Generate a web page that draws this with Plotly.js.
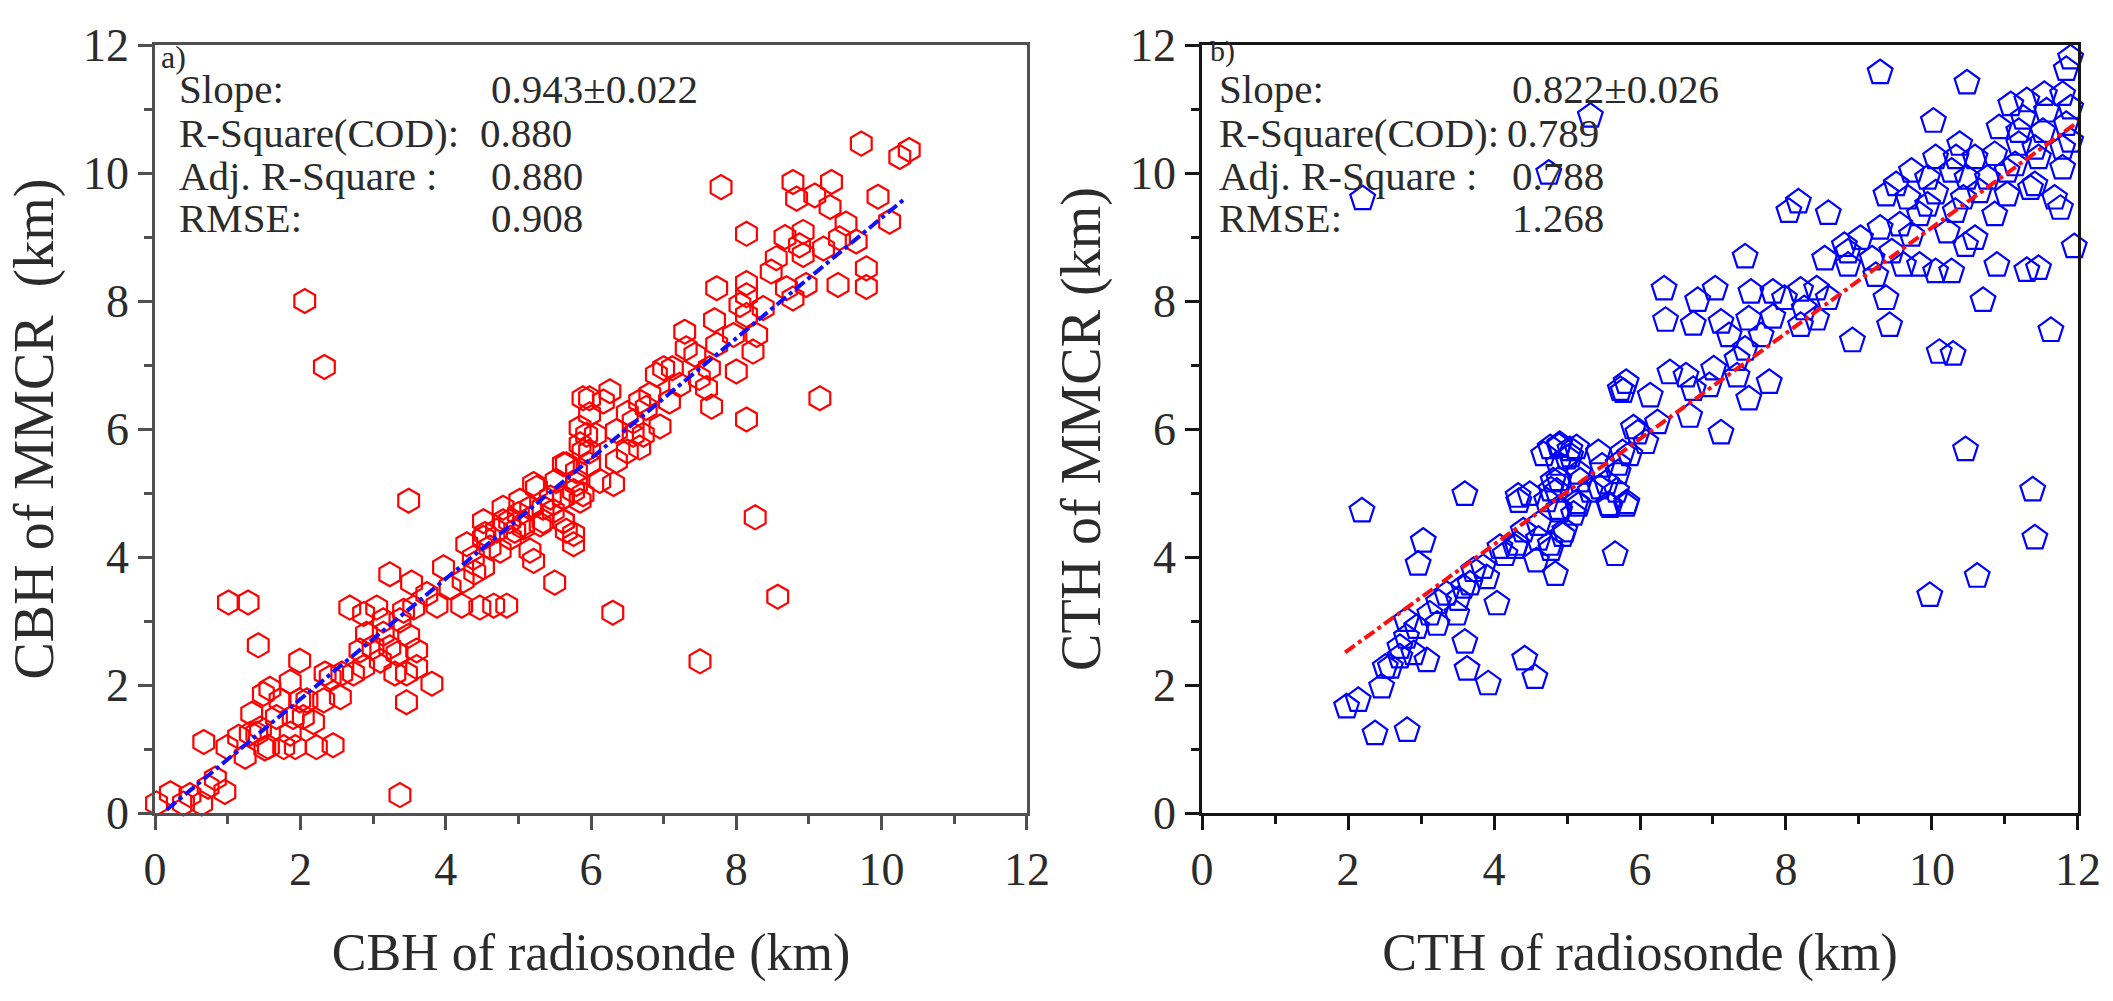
<!DOCTYPE html>
<html>
<head>
<meta charset="utf-8">
<script src="https://cdn.plot.ly/plotly-3.0.1.min.js"></script>
<style>
    body { margin: 0; background: #fff; }
    #chart { width: 2113px; height: 1001px; }
</style>
</head>
<body>
<div id="chart"></div>
<script>
// panel a) cloud base height, radiosonde vs MMCR (km)
var cbhSonde = [
    0.21, 0.02, 0.48, 0.73, 0.96, 0.64, 3.37, 0.67, 0.99, 1.24, 1.31, 1.51, 1.77, 1.93, 2.22, 2.45,
    1.33, 1.45, 1.56, 1.67, 1.90, 2.18, 1.49, 1.58, 1.86, 1.99, 2.09, 2.32, 2.34, 2.55, 2.57, 2.73,
    2.87, 2.68, 2.87, 3.05, 3.23, 3.53, 3.10, 3.23, 3.30, 3.46, 3.49, 3.46, 3.81, 3.60, 3.14, 3.37,
    1.01, 1.28, 1.42, 3.49, 3.56, 3.88, 4.22, 4.47, 4.66, 4.84, 3.97, 4.29, 4.40, 4.52, 4.79, 4.75,
    4.95, 5.21, 5.16, 5.21, 5.50, 5.62, 5.62, 5.76, 5.62, 5.89, 5.89, 5.94, 5.34, 5.00, 4.70, 4.54,
    0.39, 0.83, 1.15, 1.40, 1.86, 2.04, 1.72, 1.99, 2.41, 2.82, 3.00, 2.91, 3.14, 3.33, 3.60, 3.42,
    3.74, 4.06, 4.24, 4.52, 4.38, 4.61, 4.89, 5.07, 5.34, 5.44, 5.76, 5.80, 5.89, 4.79, 4.52,
    9.72, 10.25, 10.38, 7.79, 8.78, 9.31, 8.83, 9.08, 9.29, 9.95, 10.11, 8.14, 8.67, 9.51, 9.42, 8.92,
    9.20, 9.40, 9.79, 9.79, 8.48, 8.14, 8.69, 8.78, 7.29, 7.70, 8.14, 8.28, 7.43, 7.63, 8.00, 8.23,
    7.00, 7.22, 6.81, 7.59, 7.66, 9.15, 8.14, 8.26, 5.98, 6.26, 6.50, 6.67, 6.35, 6.06, 6.58, 6.95,
    6.67, 6.35, 5.98, 5.66, 6.12, 6.31, 5.25, 5.62, 5.85, 5.17, 4.88, 5.30, 5.62, 5.76,
    8.14, 8.37, 8.05, 7.73, 7.96, 7.73, 7.31, 7.12, 7.49, 6.90, 6.76, 7.08, 6.58, 6.17, 5.98, 5.85,
    6.72, 6.50, 5.98, 5.85, 5.52, 5.80, 5.02, 5.48, 5.07, 5.66, 8.92, 8.87, 8.55, 9.65, 8.96,
    2.06, 2.33, 6.30, 7.50, 8.57
];
var cbhMmcr = [
    0.31, 0.15, 0.28, 0.41, 0.33, 0.15, 0.28, 1.11, 1.03, 0.88, 1.24, 1.01, 1.03, 1.03, 1.03, 1.06,
    1.55, 1.32, 1.03, 1.50, 1.50, 1.42, 1.86, 1.94, 2.05, 2.38, 1.76, 1.76, 2.18, 1.81, 2.18, 2.18,
    2.28, 3.21, 3.11, 3.21, 3.73, 3.60, 2.38, 2.59, 2.18, 2.18, 2.77, 1.73, 2.02, 2.28, 2.80, 3.01,
    3.29, 3.29, 2.62, 4.88, 3.21, 3.24, 3.24, 3.21, 3.24, 3.24, 3.84, 4.20, 3.76, 4.56, 4.77, 4.10,
    4.41, 5.14, 4.10, 3.94, 3.60, 5.45, 4.93, 4.20, 4.56, 6.48, 4.98, 5.91, 4.56, 4.67, 4.41, 4.36,
    0.15, 0.54, 1.19, 1.24, 1.24, 1.50, 1.76, 1.76, 2.12, 2.54, 2.59, 2.80, 3.01, 2.49, 2.54, 3.16,
    3.42, 3.53, 3.63, 3.84, 3.99, 4.15, 4.30, 4.51, 4.77, 4.93, 5.03, 5.34, 5.65, 4.56, 4.30,
    10.46, 10.25, 10.36, 9.78, 9.86, 9.86, 9.60, 9.65, 9.47, 9.63, 9.24, 9.05, 9.00, 9.21, 8.98, 8.72,
    8.82, 8.25, 8.51, 8.22, 8.46, 8.28, 8.20, 8.04, 7.52, 7.70, 7.78, 7.47, 7.16, 6.95, 6.90, 7.21,
    6.95, 6.69, 6.54, 6.64, 6.35, 6.48, 6.15, 4.62, 6.48, 6.59, 6.25, 6.43, 5.97, 5.91, 5.91, 6.04,
    5.71, 5.50, 5.65, 5.45, 5.19, 5.14, 5.08, 4.93, 4.88, 4.77, 4.56, 4.51, 4.56, 4.36,
    8.09, 7.89, 7.94, 8.20, 7.47, 7.32, 7.26, 6.95, 6.80, 6.85, 6.33, 6.43, 6.12, 6.43, 6.23, 6.02,
    5.91, 5.65, 5.45, 5.76, 5.19, 5.14, 4.88, 4.72, 4.46, 4.41, 9.08, 8.87, 8.67, 8.93, 8.25,
    8.00, 6.97, 3.13, 2.37, 3.38
];

// panel b) cloud top height, radiosonde vs MMCR (km)
var cthSonde = [
    2.19, 3.60, 3.03, 2.96, 4.04, 3.60, 3.63, 3.92, 4.42, 4.56, 1.98, 2.14, 2.37, 2.81, 2.46, 2.51,
    2.71, 3.08, 2.80, 2.94, 3.22, 3.24, 3.51, 3.58, 3.49, 3.85, 3.90, 4.15, 4.31, 4.58, 4.84, 4.77,
    4.97, 4.90, 4.61, 4.33, 4.49, 4.86, 4.88, 4.77, 5.04, 4.90, 5.13, 5.57, 5.82, 5.66, 5.77, 5.70,
    5.91, 5.45, 5.18,
    4.68, 5.00, 5.13, 4.81, 4.72, 4.40, 4.08, 3.72, 3.67, 3.35, 3.12, 2.80, 2.71, 2.90, 2.58, 5.09,
    5.32, 5.68, 5.86,
    9.29, 10.48, 5.32, 4.75, 10.02, 11.84, 11.90, 11.08, 11.30, 11.54, 11.79, 10.92, 11.19, 11.52, 11.84, 10.38,
    10.59, 10.86, 11.19, 11.41, 11.79, 10.05, 9.94, 10.27, 10.48, 10.76, 11.03, 11.41, 11.79, 11.90, 9.37, 9.67,
    10.05, 10.43, 11.03, 11.35, 11.68, 11.76, 8.04, 8.17, 8.58, 10.86, 9.29, 9.56, 9.83, 10.21, 10.46, 10.59,
    11.95, 8.80, 9.02, 8.85, 9.18, 9.45, 9.61, 10.05, 10.27, 10.89, 11.30, 11.46, 10.70, 9.37, 9.42, 8.91,
    10.10, 10.29, 11.63, 10.46, 11.38, 7.44, 6.33, 7.03, 6.79, 6.35, 6.73, 7.52, 7.22, 7.49, 7.66, 7.82,
    8.20, 8.42, 8.58, 8.25, 8.42, 8.20, 7.44, 7.33, 7.49, 7.77, 6.63, 7.01, 6.73, 5.81, 5.73, 6.68,
    7.11, 6.24, 5.97, 6.08, 5.76, 4.89, 5.05, 4.78, 5.48, 5.54,
    11.57, 11.90, 11.25, 11.46, 11.14, 10.33, 9.72, 10.65, 10.32, 9.94, 9.51, 9.72, 9.23, 9.83, 8.85, 8.53,
    7.98, 7.82, 7.11, 7.33, 6.95, 6.41, 6.14, 5.43, 5.16, 4.89,
    11.41, 10.62, 9.97, 4.34, 4.89, 5.16, 5.59, 5.81, 5.70, 4.61, 4.78, 4.94, 4.29,
    2.20
];
var cthMmcr = [
    4.72, 4.98, 4.25, 3.89, 3.27, 2.67, 2.25, 2.02, 2.41, 2.12, 1.66, 1.76, 1.24, 1.29, 1.97, 2.28,
    2.44, 2.38, 2.75, 2.90, 2.95, 3.29, 3.34, 3.53, 3.11, 3.84, 3.68, 4.04, 4.20, 3.94, 3.73, 4.20,
    4.41, 4.72, 4.51, 4.95, 4.98, 5.03, 5.45, 5.71, 5.68, 5.76, 4.85, 4.82, 4.85, 4.04, 6.59, 5.45,
    6.02, 5.08, 5.19,
    5.60, 5.55, 5.71, 5.19, 4.88, 4.41, 4.15, 3.79, 3.58, 3.42, 3.11, 3.01, 2.59, 2.49, 2.28, 4.67,
    5.03, 5.03, 5.60,
    11.57, 11.41, 10.89, 10.00, 10.81, 11.62, 11.80, 11.07, 11.13, 11.23, 11.23, 10.71, 10.65, 10.65, 10.76, 10.45,
    10.24, 10.29, 10.45, 10.39, 10.39, 10.24, 9.92, 10.03, 9.92, 9.92, 10.03, 9.82, 10.08, 10.50, 9.66, 9.61,
    9.69, 9.61, 9.66, 9.76, 9.61, 9.45, 9.40, 9.55, 9.37, 9.35, 9.14, 9.19, 9.35, 9.08, 8.87, 8.98,
    8.85, 8.87, 8.98, 8.56, 8.66, 8.77, 8.56, 8.46, 8.46, 8.56, 8.48, 8.51, 8.01, 8.04, 7.62, 7.38,
    7.20, 7.17, 7.54, 5.68, 5.05, 8.69, 8.19, 8.19, 8.01, 7.70, 7.64, 8.14, 7.46, 7.72, 7.46, 7.75,
    8.17, 8.19, 8.04, 7.88, 7.72, 7.62, 7.25, 6.83, 6.47, 6.73, 6.83, 6.94, 6.62, 6.73, 6.62, 6.20,
    5.94, 6.10, 5.94, 5.79, 5.63, 5.73, 5.58, 5.05, 5.42, 5.16,
    10.97, 11.02, 10.86, 10.24, 10.13, 10.24, 10.03, 9.71, 9.40, 9.50, 9.82, 9.03, 8.40, 8.56, 8.77, 8.66,
    8.04, 8.14, 7.67, 7.09, 6.68, 6.88, 6.52, 5.63, 5.31, 5.21,
    4.30, 3.70, 3.40, 4.87, 4.76, 4.81, 4.79, 4.81, 5.32, 4.28, 4.12, 4.34, 4.15,
    9.60
];

// end points of the linear fits
var fitAX = [0.16, 10.32];
var fitAY = [0.05, 9.60];
var fitBX = [1.96, 12.0];
var fitBY = [2.51, 10.80];

var statLabels = ['Slope:', 'R-Square(COD):', 'Adj. R-Square :', 'RMSE:'];
var statA = ['0.943\u00b10.022', '0.880', '0.880', '0.908'];
var statB = ['0.822\u00b10.026', '0.789', '0.788', '1.268'];
var statRowY = [11.31, 10.63, 9.96, 9.29];

var serif = '"Liberation Serif", "Times New Roman", serif';
var inkColor = '#2b2b2b';

function makeAxis(domain, lineColor, titleText, anchor, titleSize, standoff) {
    return {
        domain: domain,
        anchor: anchor,
        range: [0, 12],
        tick0: 0,
        dtick: 2,
        ticks: 'outside',
        ticklen: 14,
        tickwidth: 3,
        tickcolor: lineColor,
        minor: { dtick: 1, ticks: 'outside', ticklen: 8, tickwidth: 3, tickcolor: lineColor },
        showline: true,
        linewidth: 3,
        linecolor: lineColor,
        mirror: true,
        showgrid: false,
        zeroline: false,
        tickfont: { family: serif, size: 46, color: inkColor },
        title: { text: titleText, font: { family: serif, size: titleSize, color: inkColor }, standoff: standoff }
    };
}

var data = [
    {
        x: cbhSonde, y: cbhMmcr, xaxis: 'x', yaxis: 'y',
        type: 'scatter', mode: 'markers', cliponaxis: false,
        marker: { symbol: 'hexagon-open', size: 24, color: '#ff0000', line: { width: 2.2 } }
    },
    {
        x: fitAX, y: fitAY, xaxis: 'x', yaxis: 'y',
        type: 'scatter', mode: 'lines',
        line: { color: '#1010ff', width: 4, dash: 'dashdot' }
    },
    {
        x: cthSonde, y: cthMmcr, xaxis: 'x2', yaxis: 'y2',
        type: 'scatter', mode: 'markers', cliponaxis: false,
        marker: { symbol: 'pentagon-open', size: 26, color: '#0000ff', line: { width: 2.2 } }
    },
    {
        x: fitBX, y: fitBY, xaxis: 'x2', yaxis: 'y2',
        type: 'scatter', mode: 'lines',
        line: { color: '#ff1010', width: 4, dash: 'dashdot' }
    }
];

var annotations = [];
function addNote(xref, yref, x, y, text, size) {
    annotations.push({
        xref: xref, yref: yref, x: x, y: y, text: text,
        xanchor: 'left', yanchor: 'middle', showarrow: false,
        font: { family: serif, size: size, color: inkColor }
    });
}
addNote('x', 'y', 0.05, 11.82, 'a)', 32);
addNote('x2', 'y2', 0.08, 11.9, 'b)', 30);
for (var i = 0; i < statLabels.length; i++) {
    addNote('x', 'y', 0.3, statRowY[i], statLabels[i], 41);
    addNote('x', 'y', i == 1 ? 4.45 : 4.6, statRowY[i], statA[i], 41);
    addNote('x2', 'y2', 0.2, statRowY[i], statLabels[i], 41);
    addNote('x2', 'y2', i == 1 ? 4.15 : 4.22, statRowY[i], statB[i], 41);
}

var layout = {
    width: 2113,
    height: 1001,
    margin: { l: 0, r: 0, t: 0, b: 0 },
    paper_bgcolor: '#fff',
    plot_bgcolor: '#fff',
    showlegend: false,
    xaxis: makeAxis([0.0734, 0.486], '#505050', 'CBH of radiosonde (km)', 'y', 52, 40),
    yaxis: makeAxis([0.1878, 0.955], '#505050', 'CBH of MMCR\u00a0\u00a0(km)', 'x', 56, 12),
    xaxis2: makeAxis([0.5689, 0.9834], '#151515', 'CTH of radiosonde (km)', 'y2', 52, 40),
    yaxis2: makeAxis([0.1878, 0.955], '#151515', 'CTH of MMCR (km)', 'x2', 56, 12),
    annotations: annotations
};

Plotly.newPlot('chart', data, layout, { displayModeBar: false, staticPlot: true });
</script>
</body>
</html>
